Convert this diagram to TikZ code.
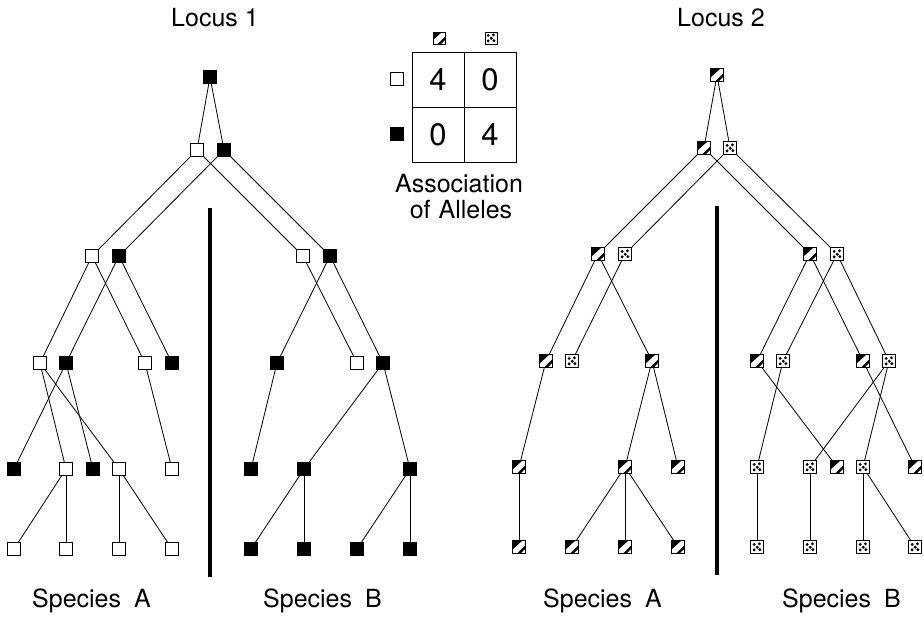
\documentclass[tikz,border=0pt]{standalone}
\usepackage{fontspec}
\setmainfont{TeX Gyre Heros}
\begin{document}
\begin{tikzpicture}[x=1pt,y=-1pt,
  sq/.style={rectangle, draw=black, line width=0.9pt, minimum size=13pt, inner sep=0pt, outer sep=0pt},
  wsq/.style={sq, fill=white},
  bsq/.style={sq, fill=black},
  hsq/.style={sq, fill=white, path picture={
     \fill[black] ([shift={(-7pt,-3pt)}]path picture bounding box.center) -- ([shift={(-7pt,7pt)}]path picture bounding box.center) -- ([shift={(4pt,7pt)}]path picture bounding box.center) -- cycle;
     \fill[black] ([shift={(-2.5pt,-7pt)}]path picture bounding box.center) -- ([shift={(7pt,2.5pt)}]path picture bounding box.center) -- ([shift={(7pt,-1pt)}]path picture bounding box.center) -- ([shift={(1pt,-7pt)}]path picture bounding box.center) -- cycle;}},
  dsq/.style={sq, fill=white, path picture={
     \foreach \dx/\dy in {-2.8/2.6, 2.4/3.2, 0.2/-0.2, -2.9/-2.9, 2.9/-2.6}
       \fill[black] ([shift={(\dx pt,\dy pt)}]path picture bounding box.center) circle[radius=1.6pt];}},
  conn/.style={line width=0.8pt},
  sepbar/.style={line width=4pt},
  lab/.style={font=\fontsize{25}{30}\selectfont, inner sep=0pt, anchor=base},
  cell/.style={rectangle, draw=black, line width=1pt, minimum width=52pt, minimum height=55pt, inner sep=0pt, font=\fontsize{31}{36}\selectfont}
]
\useasboundingbox (0,0) rectangle (924,616);

% ---------------- Locus 1 ----------------
\node[lab] (loc1) at (215,26) {Locus 1};
\node[bsq] (r1) at (210,77) {};
\node[wsq] (a1w) at (197,150) {};
\node[bsq] (a1b) at (224,150) {};
\node[wsq] (b1w) at (92,256) {};
\node[bsq] (b1b) at (119,256) {};
\node[wsq] (b2w) at (303,256) {};
\node[bsq] (b2b) at (330,256) {};
\node[wsq] (c1w) at (40,363) {};
\node[bsq] (c1b) at (66,363) {};
\node[wsq] (c2w) at (145,363) {};
\node[bsq] (c2b) at (172,363) {};
\node[bsq] (c3b) at (277,363) {};
\node[wsq] (c4w) at (357,363) {};
\node[bsq] (c4b) at (383,363) {};
\node[bsq] (d1b) at (14,469) {};
\node[wsq] (d1w) at (66,469) {};
\node[bsq] (d2b) at (93,469) {};
\node[wsq] (d2w) at (119,469) {};
\node[wsq] (d3w) at (172,469) {};
\node[bsq] (d4b) at (251,469) {};
\node[bsq] (d5b) at (304,469) {};
\node[bsq] (d6b) at (410,469) {};
\node[wsq] (e1) at (14,549) {};
\node[wsq] (e2) at (66,549) {};
\node[wsq] (e3) at (119,549) {};
\node[wsq] (e4) at (172,549) {};
\node[bsq] (e5) at (251,549) {};
\node[bsq] (e6) at (304,549) {};
\node[bsq] (e7) at (357,549) {};
\node[bsq] (e8) at (410,549) {};

\draw[conn] (r1) -- (a1w);  \draw[conn] (r1) -- (a1b);
\draw[conn] (a1w) -- (b1w); \draw[conn] (a1w) -- (b2w);
\draw[conn] (a1b) -- (b1b); \draw[conn] (a1b) -- (b2b);
\draw[conn] (b1w) -- (c1w); \draw[conn] (b1w) -- (c2w);
\draw[conn] (b1b) -- (c1b); \draw[conn] (b1b) -- (c2b);
\draw[conn] (b2w) -- (c4w); \draw[conn] (b2b) -- (c3b); \draw[conn] (b2b) -- (c4b);
\draw[conn] (c1w) -- (d1w); \draw[conn] (c1w) -- (d2w);
\draw[conn] (c1b) -- (d1b); \draw[conn] (c1b) -- (d2b);
\draw[conn] (c2w) -- (d3w);
\draw[conn] (c3b) -- (d4b); \draw[conn] (c4b) -- (d5b); \draw[conn] (c4b) -- (d6b);
\draw[conn] (d1w) -- (e1); \draw[conn] (d1w) -- (e2);
\draw[conn] (d2w) -- (e3); \draw[conn] (d2w) -- (e4);
\draw[conn] (d5b) -- (e5); \draw[conn] (d5b) -- (e6);
\draw[conn] (d6b) -- (e7); \draw[conn] (d6b) -- (e8);

\coordinate (bar1t) at (210,208);
\coordinate (bar1b) at (210,577);
\draw[sepbar] (bar1t) -- (bar1b);
\node[lab, anchor=base west] (spA1) at (32,607) {Species\hspace{13pt}A};
\node[lab, anchor=base west] (spB1) at (263,607) {Species\hspace{13pt}B};

% ---------------- Table ----------------
\node[cell] (c11) at (438,79.5) {4};
\node[cell] (c12) at (490,79.5) {0};
\node[cell] (c21) at (438,134.5) {0};
\node[cell] (c22) at (490,134.5) {4};
\node[hsq, minimum size=12pt] (hh) at (439,38) {};
\node[dsq, minimum size=12pt] (hd) at (491,38) {};
\node[wsq] (rw) at (397,79) {};
\node[bsq] (rb) at (397,134) {};
\node[lab] (assoc) at (459,192) {Association};
\node[lab] (ofall) at (461,218) {of\hspace{8pt}Alleles};

% ---------------- Locus 2 ----------------
\node[lab] (loc2) at (721,26) {Locus 2};
\node[hsq] (R) at (717,75) {};
\node[hsq] (p1h) at (704,148) {};
\node[dsq] (p1d) at (730,148) {};
\node[hsq] (q1h) at (598,254) {};
\node[dsq] (q1d) at (625,254) {};
\node[hsq] (q2h) at (810,254) {};
\node[dsq] (q2d) at (837,254) {};
\node[hsq] (s1h) at (546,361) {};
\node[dsq] (s1d) at (572,361) {};
\node[hsq] (s2h) at (652,361) {};
\node[hsq] (s3h) at (757,361) {};
\node[dsq] (s3d) at (783,361) {};
\node[hsq] (s4h) at (863,361) {};
\node[dsq] (s4d) at (889,361) {};
\node[hsq] (t1h) at (519,467) {};
\node[hsq] (t2h) at (625,467) {};
\node[hsq] (t3h) at (678,467) {};
\node[dsq] (t4d) at (757,467) {};
\node[dsq] (t5d) at (810,467) {};
\node[hsq] (t6h) at (837,467) {};
\node[dsq] (t7d) at (863,467) {};
\node[hsq] (t8h) at (915,467) {};
\node[hsq] (u1) at (519,547) {};
\node[hsq] (u2) at (572,547) {};
\node[hsq] (u3) at (625,547) {};
\node[hsq] (u4) at (678,547) {};
\node[dsq] (u5) at (757,547) {};
\node[dsq] (u6) at (810,547) {};
\node[dsq] (u7) at (863,547) {};
\node[dsq] (u8) at (915,547) {};

\draw[conn] (R) -- (p1h);  \draw[conn] (R) -- (p1d);
\draw[conn] (p1h) -- (q1h); \draw[conn] (p1h) -- (q2h);
\draw[conn] (p1d) -- (q1d); \draw[conn] (p1d) -- (q2d);
\draw[conn] (q1h) -- (s1h); \draw[conn] (q1h) -- (s2h); \draw[conn] (q1d) -- (s1d);
\draw[conn] (q2h) -- (s3h); \draw[conn] (q2h) -- (s4h);
\draw[conn] (q2d) -- (s3d); \draw[conn] (q2d) -- (s4d);
\draw[conn] (s1h) -- (t1h); \draw[conn] (s2h) -- (t2h); \draw[conn] (s2h) -- (t3h);
\draw[conn] (s3h) -- (t6h); \draw[conn] (s3d) -- (t4d);
\draw[conn] (s4h) -- (t8h); \draw[conn] (s4d) -- (t5d); \draw[conn] (s4d) -- (t7d);
\draw[conn] (t1h) -- (u1);
\draw[conn] (t2h) -- (u2); \draw[conn] (t2h) -- (u3); \draw[conn] (t2h) -- (u4);
\draw[conn] (t4d) -- (u5); \draw[conn] (t5d) -- (u6);
\draw[conn] (t7d) -- (u7); \draw[conn] (t7d) -- (u8);

\coordinate (bar2t) at (717,206);
\coordinate (bar2b) at (717,575);
\draw[sepbar] (bar2t) -- (bar2b);
\node[lab, anchor=base west] (spA2) at (543,607) {Species\hspace{13pt}A};
\node[lab, anchor=base west] (spB2) at (782,607) {Species\hspace{13pt}B};
\end{tikzpicture}
\end{document}
